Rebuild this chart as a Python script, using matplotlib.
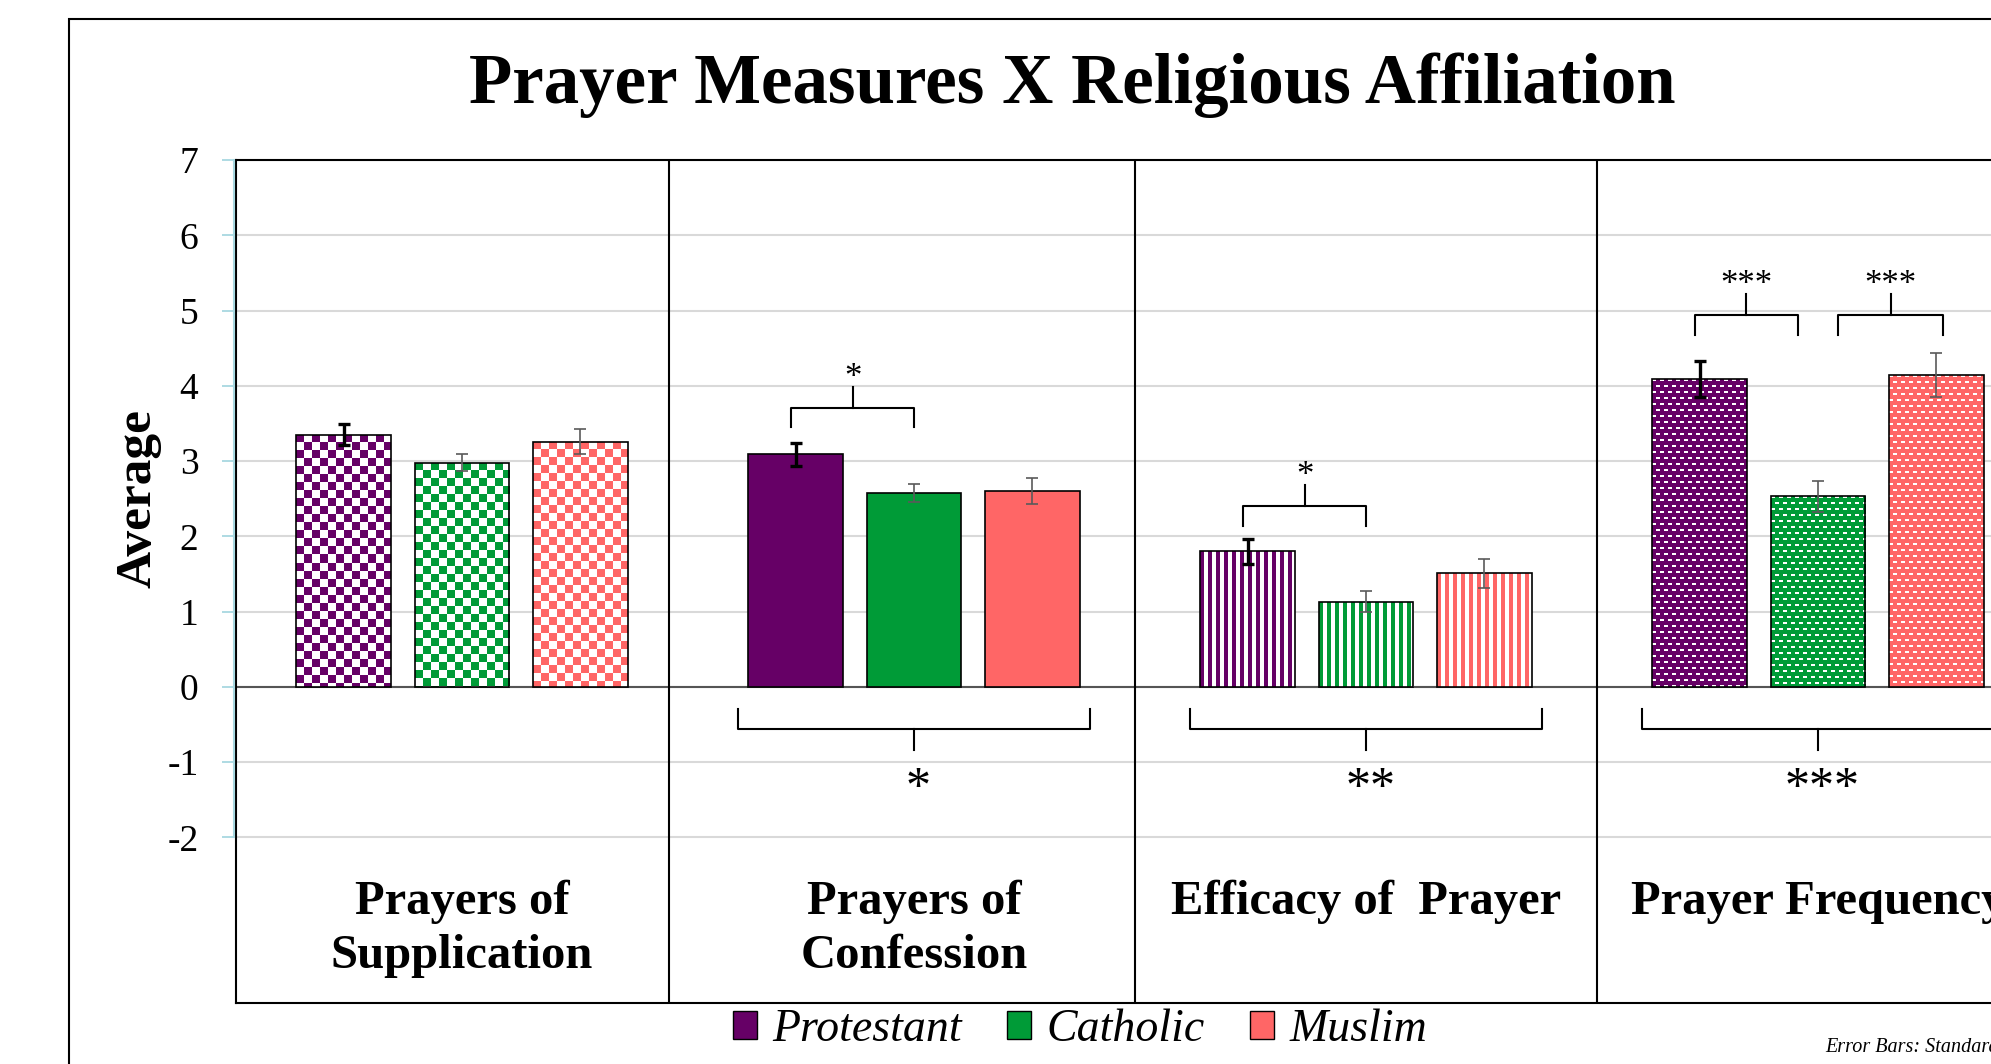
import matplotlib.pyplot as plt
import matplotlib.colors as mcolors
import matplotlib.transforms as mtransforms
from matplotlib.patches import Patch, Rectangle
import numpy as np

plt.rcParams['font.family'] = ['Liberation Serif', 'DejaVu Serif']

# data
categories = ['Prayers of\nSupplication', 'Prayers of\nConfession',
              'Efficacy of  Prayer', 'Prayer Frequency']
groups = ['Protestant', 'Catholic', 'Muslim']
protestant = [3.35, 3.09, 1.80, 4.09]
catholic = [2.98, 2.57, 1.13, 2.53]
muslim = [3.26, 2.60, 1.51, 4.14]
protestant_se = [0.14, 0.15, 0.17, 0.24]
catholic_se = [0.11, 0.12, 0.14, 0.20]
muslim_se = [0.16, 0.17, 0.19, 0.29]
y_ticks = [-2, -1, 0, 1, 2, 3, 4, 5, 6, 7]

# pairwise comparisons drawn above the bars
pair_cat = [1, 2, 3, 3]
pair_a = [0, 0, 0, 1]
pair_b = [1, 1, 1, 2]
pair_y = [3.45, 2.14, 4.68, 4.68]
pair_label = ['*', '*', '***', '***']
# overall test drawn under each category
omni_cat = [1, 2, 3]
omni_label = ['*', '**', '***']

colors = ['#660066', '#009B37', '#FF6666']
fills = ['checker', 'solid', 'stripes', 'dashes']

W, H = 1991, 1064
fig = plt.figure(figsize=(W / 100, H / 100), dpi=100)
ax = fig.add_axes([236 / W, 1 - 1003 / H, (2044 - 236) / W, (1003 - 160) / H])
ax.set_xlim(-0.5, 3.5)
ax.set_ylim(-4.2, 7)

px_x = ax.bbox.width / 4.0
px_y = ax.bbox.height / 11.2


def pattern(kind, color, w_px, h_px, ss=2):
    nx, ny = max(int(round(w_px * ss)), 1), max(int(round(h_px * ss)), 1)
    X, Y = np.meshgrid(np.arange(nx) / ss, np.arange(ny) / ss)
    if kind == 'checker':
        mask = ((X // 8 + Y // 8) % 2) == 0
    elif kind == 'stripes':
        mask = (X % 8) < 3.5
    else:
        row = Y // 6
        mask = ~(((Y % 6) < 2) & (((X + 4 * (row % 2)) % 8) < 4))
    rgb = np.array(mcolors.to_rgb(color))
    return np.where(mask[..., None], rgb, 1.0)


x = np.arange(len(categories))
width = 0.209
offsets = [-0.262, 0.0, 0.262]
series = [protestant, catholic, muslim]
errors = [protestant_se, catholic_se, muslim_se]
err_color = ['black', '#5a5a5a', '#5a5a5a']
err_lw = [2.4, 1.2, 1.2]

for i in range(3):
    for j in range(len(categories)):
        xc = x[j] + offsets[i]
        v = series[i][j]
        if fills[j] == 'solid':
            ax.bar(xc, v, width, color=colors[i], edgecolor='black', linewidth=1.2, zorder=3)
        else:
            b = ax.bar(xc, v, width, facecolor='none', edgecolor='black', linewidth=1.2, zorder=4)[0]
            img = pattern(fills[j], colors[i], width * px_x, v * px_y)
            im = ax.imshow(img, extent=[xc - width / 2, xc + width / 2, 0, v], origin='upper',
                           interpolation='nearest', aspect='auto', zorder=3)
            im.set_clip_path(b)
    ax.errorbar(x + offsets[i], series[i], yerr=errors[i], fmt='none', ecolor=err_color[i],
                elinewidth=err_lw[i], capsize=4.3, capthick=err_lw[i], zorder=5)

ax.set_aspect('auto')
ax.set_xlim(-0.5, 3.5)
ax.set_ylim(-4.2, 7)

# grid and axes
ax.set_yticks(y_ticks)
ax.set_yticklabels([str(t) for t in y_ticks])
ax.set_xticks([])
ax.yaxis.grid(True, color='#d9d9d9', linewidth=1.5)
ax.set_axisbelow(True)
ax.axhline(0, color='#555555', linewidth=1.5, zorder=2)
ax.tick_params(axis='y', length=10, width=1.3, color='#a8d8e0', labelsize=27, pad=17)
for s in ax.spines.values():
    s.set_color('black')
    s.set_linewidth(1.5)
blue = mtransforms.offset_copy(ax.get_yaxis_transform(), fig, x=-2, units='dots')
ax.plot([0, 0], [-2, 7], color='#a8d8e0', linewidth=1.5, transform=blue, clip_on=False, zorder=6)

divider_x = [0.4586, 1.488, 2.511]
for xd in divider_x:
    ax.axvline(xd, color='black', linewidth=1.5, zorder=6)

for j, cat in enumerate(categories):
    ax.text(x[j], -2.56, cat, ha='center', va='top', fontsize=35, fontweight='bold',
            linespacing=1.3)

# significance brackets
for c, a, b, yb, lab in zip(pair_cat, pair_a, pair_b, pair_y, pair_label):
    shrink = 0.045 if c == 3 else 0.0
    xa = x[c] + offsets[a] + (shrink if a == 1 else -0.01)
    xb = x[c] + offsets[b] - (shrink if a == 0 else -0.015)
    xm = (xa + xb) / 2
    ax.plot([xa, xa, xb, xb], [yb, yb + 0.26, yb + 0.26, yb], color='black', lw=1.5, zorder=6)
    ax.plot([xm, xm], [yb + 0.26, yb + 0.54], color='black', lw=1.5, zorder=6)
    ax.text(xm, yb + 0.54, lab, ha='center', va='baseline', fontsize=25)

for c, lab in zip(omni_cat, omni_label):
    xa, xb = x[c] - 0.39, x[c] + 0.39
    ax.plot([xa, xa, xb, xb], [-0.30, -0.56, -0.56, -0.30], color='black', lw=1.5, zorder=6)
    ax.plot([x[c], x[c]], [-0.56, -0.84], color='black', lw=1.5, zorder=6)
    ax.text(x[c] + 0.01, -1.52, lab, ha='center', va='baseline', fontsize=36)

fig.text(1072 / W, 1 - 103 / H, 'Prayer Measures X Religious Affiliation', ha='center',
         va='baseline', fontsize=51, fontweight='bold')
fig.text(139 / W, 1 - 499 / H, 'Average', rotation=90, ha='center', va='center',
         fontsize=37, fontweight='bold')

handles = [Patch(facecolor=c, edgecolor='black', linewidth=1.0) for c in colors]
fig.legend(handles, groups, loc='center', bbox_to_anchor=(1080 / W, 1 - 1030 / H), ncol=3,
           frameon=False, prop={'size': 33, 'style': 'italic'}, handlelength=0.52,
           handleheight=0.55, handletextpad=0.33, columnspacing=1.0)

fig.text(1825 / W, 1 - 1052 / H, 'Error Bars: Standard Error', fontsize=14.5, style='italic',
         va='baseline')

fig.add_artist(Rectangle((69 / W, -0.5), 2, 1.5 - 19 / H, transform=fig.transFigure,
                         fill=False, edgecolor='black', linewidth=1.5))

fig.savefig('out.png', dpi=100)
